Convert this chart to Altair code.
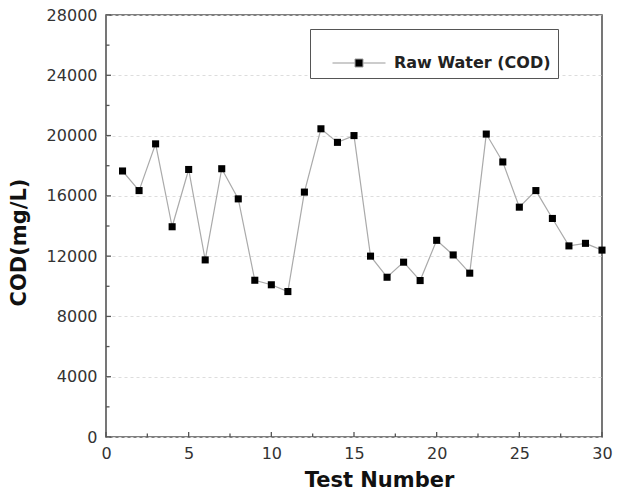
import altair as alt
import pandas as pd

test_number = list(range(1, 31))
cod_values = [17650, 16350, 19450, 13950, 17750, 11750, 17800, 15800, 10400, 10100,
              9650, 16250, 20450, 19550, 20000, 12000, 10600, 11600, 10380, 13050,
              12080, 10870, 20100, 18250, 15250, 16350, 14500, 12680, 12850, 12400]
series_name = "Raw Water (COD)"

y_major = [0, 4000, 8000, 12000, 16000, 20000, 24000, 28000]
y_minor = [2000, 6000, 10000, 14000, 18000, 22000, 26000]
x_major = [0, 5, 10, 15, 20, 25, 30]
x_minor = [2.5, 7.5, 12.5, 17.5, 22.5, 27.5]

W, H = 496, 422
FONT = "DejaVu Sans"

df = pd.DataFrame({"test": test_number, "cod": cod_values, "series": series_name})

xs = alt.Scale(domain=[0, 30], nice=False, zero=False)
ys = alt.Scale(domain=[0, 28000], nice=False)

x_axis = alt.Axis(values=x_major, grid=False, tickSize=0, domain=False,
                  labelPadding=8, labelFontSize=16, labelFont=FONT,
                  labelColor="#333333", labelFlush=False, labelOverlap=False,
                  format="d", title="Test Number",
                  titleFont=FONT, titleFontSize=21, titleFontWeight="bold",
                  titleColor="#111111", titleX=273, titleY=49,
                  titleBaseline="alphabetic", titleAlign="center")
y_axis = alt.Axis(values=y_major, grid=True, gridColor="#dddddd",
                  gridDash=[3, 3], gridWidth=1, tickSize=0, domain=False,
                  labelPadding=9, labelFontSize=16, labelFont=FONT,
                  labelColor="#333333", labelFlush=False, labelOverlap=False,
                  format="d", title="COD(mg/L)",
                  titleFont=FONT, titleFontSize=21, titleFontWeight="bold",
                  titleColor="#111111", titleX=-81, titleY=227,
                  titleBaseline="alphabetic", titleAlign="center",
                  titleAngle=270)

line = alt.Chart(df).mark_line(color="#aaaaaa", strokeWidth=1.2).encode(
    x=alt.X("test:Q", scale=xs, axis=x_axis, title="Test Number"),
    y=alt.Y("cod:Q", scale=ys, axis=y_axis, title="COD(mg/L)"),
)

legend_path = "M-1,0H-0.16M0.16,0H1M-0.15,-0.15H0.15V0.15H-0.15Z"

points = alt.Chart(df).mark_square(size=50, opacity=1, filled=True).encode(
    x=alt.X("test:Q", scale=xs, axis=x_axis, title="Test Number"),
    y=alt.Y("cod:Q", scale=ys, axis=y_axis, title="COD(mg/L)"),
    color=alt.Color("series:N", scale=alt.Scale(range=["#000000"]),
                    legend=alt.Legend(orient="none", legendX=204, legendY=14,
                                      title=None, strokeColor="#555555",
                                      fillColor="white", padding=7,
                                      symbolType=legend_path, symbolSize=2809,
                                      symbolFillColor="#000000",
                                      symbolStrokeColor="#999999",
                                      symbolStrokeWidth=1, symbolOffset=15,
                                      labelOffset=8, labelFont=FONT,
                                      labelFontSize=16, labelFontWeight="bold",
                                      labelColor="#222222")),
)

ytick_major = alt.Chart(pd.DataFrame({"cod": y_major})).mark_rule(color="#555555", strokeWidth=1.3).encode(
    y=alt.Y("cod:Q", scale=ys, axis=y_axis, title="COD(mg/L)"), x=alt.value(0), x2=alt.value(5))
ytick_minor = alt.Chart(pd.DataFrame({"cod": y_minor})).mark_rule(color="#555555", strokeWidth=1.3).encode(
    y=alt.Y("cod:Q", scale=ys, axis=y_axis, title="COD(mg/L)"), x=alt.value(0), x2=alt.value(3.5))
xtick_major = alt.Chart(pd.DataFrame({"test": x_major})).mark_rule(color="#555555", strokeWidth=1.3).encode(
    x=alt.X("test:Q", scale=xs, axis=x_axis, title="Test Number"), y=alt.value(H), y2=alt.value(H - 5))
xtick_minor = alt.Chart(pd.DataFrame({"test": x_minor})).mark_rule(color="#555555", strokeWidth=1.3).encode(
    x=alt.X("test:Q", scale=xs, axis=x_axis, title="Test Number"), y=alt.value(H), y2=alt.value(H - 3.5))

chart = alt.layer(line, ytick_major, ytick_minor, xtick_major, xtick_minor, points).properties(
    width=W, height=H,
    autosize=alt.AutoSizeParams(type="none"),
    padding={"left": 106, "top": 15, "right": 36, "bottom": 53},
    background="white",
).configure_view(stroke="#555555", strokeWidth=1.6)

chart.save("out.html", embed_options={"renderer": "svg", "actions": False})
